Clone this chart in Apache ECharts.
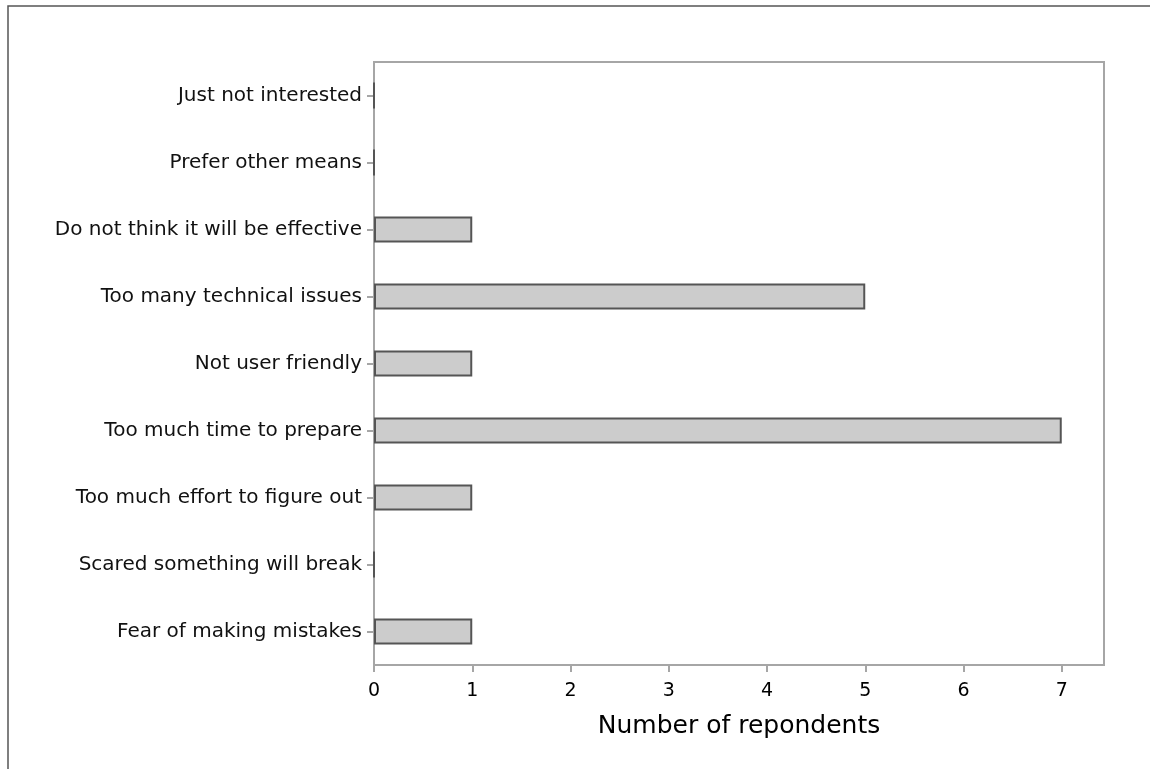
<!DOCTYPE html>
<html>
<head>
<meta charset="utf-8">
<script src="https://cdn.jsdelivr.net/npm/echarts@6/dist/echarts.min.js"></script>
<style>
html,body{margin:0;padding:0;background:#fff;}
#chart{width:1150px;height:769px;}
</style>
</head>
<body>
<div id="chart"></div>
<script>
const categories = [
  "Just not interested",
  "Prefer other means",
  "Do not think it will be effective",
  "Too many technical issues",
  "Not user friendly",
  "Too much time to prepare",
  "Too much effort to figure out",
  "Scared something will break",
  "Fear of making mistakes"
];
const respondents = [0, 0, 1, 5, 1, 7, 1, 0, 1];
const xTicks = [0, 1, 2, 3, 4, 5, 6, 7];
const axisTitle = "Number of repondents";

const FONT = "DejaVu Sans";
const chart = echarts.init(document.getElementById('chart'), null, {renderer: 'canvas'});
chart.setOption({
  animation: false,
  backgroundColor: '#ffffff',
  graphic: [{
    type: 'rect',
    shape: {x: 8, y: 6, width: 1300, height: 900},
    style: {fill: 'none', stroke: '#555555', lineWidth: 1.5},
    silent: true
  }],
  grid: {
    left: 374, top: 62, right: 46, bottom: 104,
    show: true, borderColor: '#a6a6a6', borderWidth: 2, backgroundColor: 'transparent'
  },
  xAxis: {
    type: 'value',
    min: 0, max: 7.43, interval: 1,
    name: axisTitle,
    nameLocation: 'middle',
    nameGap: 49,
    nameTextStyle: {fontFamily: FONT, fontSize: 25, color: '#000'},
    axisLine: {show: true, lineStyle: {color: '#a6a6a6', width: 2}},
    axisTick: {show: true, length: 7, lineStyle: {color: '#a6a6a6', width: 2}},
    splitLine: {show: false},
    axisLabel: {
      fontFamily: FONT, fontSize: 19, color: '#000', margin: 17,
      showMaxLabel: false,
      formatter: function (v) { return xTicks.indexOf(v) >= 0 ? String(v) : ''; }
    }
  },
  yAxis: {
    type: 'category',
    data: categories,
    inverse: true,
    axisLine: {show: true, lineStyle: {color: '#a6a6a6', width: 2}},
    axisTick: {show: true, alignWithLabel: true, length: 7, lineStyle: {color: '#a6a6a6', width: 2}},
    axisLabel: {fontFamily: FONT, fontSize: 20, color: '#111', margin: 12}
  },
  series: [{
    type: 'bar',
    data: respondents,
    barWidth: 26,
    itemStyle: {color: '#cccccc', borderColor: '#555555', borderWidth: 2}
  }]
});
</script>
</body>
</html>
